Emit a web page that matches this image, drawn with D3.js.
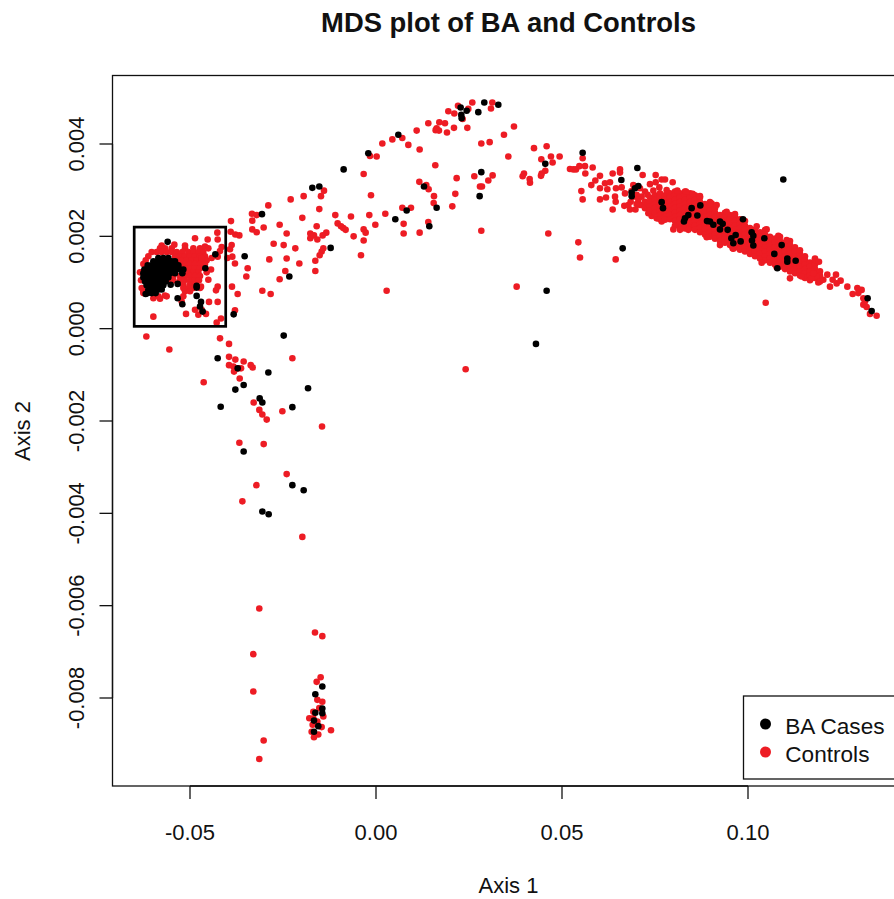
<!DOCTYPE html>
<html>
<head>
<meta charset="utf-8">
<title>MDS plot of BA and Controls</title>
<script src="https://cdn.jsdelivr.net/npm/d3@7/dist/d3.min.js"></script>
<style>
html,body{margin:0;padding:0;background:#fff;overflow:hidden}
svg{display:block}
text{font-family:"Liberation Sans",Arial,Helvetica,sans-serif;fill:#111}
</style>
</head>
<body>
<svg id="chart" width="894" height="899"></svg>
<script>
const chartTitle = "MDS plot of BA and Controls";
const xAxisTitle = "Axis 1";
const yAxisTitle = "Axis 2";
const xTicks = [-0.05, 0, 0.05, 0.10];
const xTickLabels = ["-0.05", "0.00", "0.05", "0.10"];
const yTicks = [0.004, 0.002, 0, -0.002, -0.004, -0.006, -0.008];
const yTickLabels = ["0.004", "0.002", "0.000", "-0.002", "-0.004", "-0.006", "-0.008"];
const legendLabels = ["BA Cases", "Controls"];
const highlightX = [-0.0650, -0.0404];
const highlightY = [0.00005, 0.00220];

// Controls: the arch across the top middle
const controlsArch = [
[.02589,.00490],[.03127,.00490],[.03091,.00477],[.02204,.00483],[.01944,.00471],[.02105,.00466],[.02481,.00476],[.02329,.00454],
[.01406,.00445],[.01702,.00447],[.01854,.00445],[.01630,.00434],[.01603,.00430],[.01693,.00429],[.01908,.00425],[.02096,.00435],[.02455,.00435],[.01093,.00429],
[.03709,.00438],[.03440,.00420],[.02831,.00401],[.03055,.00404],[.01173,.00388],[.00869,.00398],[.00439,.00410],[.00707,.00413],[.00170,.00401],
[.00017,.00373],[-.00162,.00374],[.01594,.00354],[.03557,.00373],[.04247,.00391],[.04587,.00395],[.04444,.00367],[.04703,.00373],[.04936,.00373],[.04748,.00360],
[.04551,.00342],[.04453,.00336],[.04435,.00331],[.03978,.00336],[.03942,.00330],[.04130,.00324],[.04139,.00316],[-.00332,.00335],[.02168,.00326],[.02643,.00330],[.03135,.00332],[.03019,.00321],[.02795,.00308],[.02849,.00308],
[.01164,.00318],[.01352,.00311],[.01415,.00302],[-.01398,.00299],[-.01479,.00287],[-.01945,.00287],[-.02294,.00280],[-.00135,.00289],[.01559,.00287],[.02132,.00292],[.01550,.00272],[.02051,.00265],
[-.02895,.00267],[-.01524,.00259],[-.01094,.00246],[-.00673,.00243],[-.00180,.00246],[.00250,.00249],[.00707,.00262],[.00940,.00262],[-.03334,.00249],[-.03208,.00246],[-.01981,.00240],
[-.03325,.00234],[-.03898,.00233],[-.01031,.00228],[-.00941,.00222],[-.00879,.00218],[-.00816,.00214],[-.00018,.00225],[-.00332,.00215],[-.00278,.00208],[-.02590,.00225],[-.03020,.00219],[-.03325,.00215],[-.03208,.00209],[-.02402,.00206],[-.01595,.00222],
[.00743,.00227],[.01406,.00231],[.00743,.00206],[.01173,.00208],[.02831,.00212],[.04632,.00206],[-.01336,.00208],[-.01434,.00202],[-.01766,.00206],[-.01766,.00196],[-.01667,.00202],[-.01577,.00193],[-.00601,.00200],[-.00332,.00191],
[-.03782,.00204],[-.03674,.00202],[-.03907,.00210],[-.02751,.00184],[-.02482,.00181],[-.02169,.00174],[-.01416,.00174],[-.01461,.00167],[-.01515,.00159],[-.00404,.00159],[-.03880,.00181],[-.03925,.00172],[-.03862,.00156],
[-.02868,.00150],[-.02402,.00152],[-.02061,.00141],[-.01631,.00147],[-.03791,.00141],[-.03450,.00131],[-.03486,.00113],[-.02438,.00125],[-.02590,.00107],[-.01631,.00125],
[.03781,.00091],[.00286,.00082],[-.03056,.00082],[-.02832,.00075],[-.03719,.00075],[-.03871,.00091],[.05214,.00346],
[-.04265,.00208],[-.04256,.00193],[-.04194,.00168],[-.04149,.00177],[-.03996,.00153],[-.04256,.00156],[-.04256,.00091],[-.04301,.00083],[-.04256,.00058],[-.03791,.00040],[-.04167,.00022],[-.04283,.00013]
];

// Controls: the arm running down below zero
const controlsLower = [
[-.06173,-.00017],[-.05555,-.00045],[-.04193,-.00021],[-.03951,-.00033],[-.03951,-.00061],[-.03781,-.00067],[-.03557,-.00071],[-.03368,-.00079],[-.03315,-.00084],
[-.03951,-.00079],[-.03834,-.00082],[-.03700,-.00086],[-.03628,-.00086],[-.03816,-.00093],[-.03664,-.00108],[-.02248,-.00064],[-.04632,-.00116],[-.03288,-.00160],
[-.03136,-.00176],[-.03055,-.00186],[-.02938,-.00197],[-.02517,-.00179],[-.01451,-.00212],[-.03673,-.00247],[-.03019,-.00250],[-.02401,-.00315],[-.03216,-.00339],[-.03592,-.00374],[-.01980,-.00451],
[.02410,-.00088],
[-.03137,-.00606],[-.01640,-.00658],[-.01443,-.00666],[-.03298,-.00705],[-.03298,-.00786],[-.03020,-.00892],[-.03137,-.00932],[-.01488,-.00755],[-.01595,-.00765],[-.01577,-.00804],[-.01443,-.00808],
[-.01524,-.00822],[-.01685,-.00830],[-.01793,-.00844],[-.01685,-.00844],[-.01703,-.00858],[-.01416,-.00840],[-.01461,-.00863],[-.01210,-.00870],[-.01551,-.00879],[-.01667,-.00885],[-.01730,-.00873],[-.01577,-.00851]
];

// Controls: the dense group inside and near the box
const controlsCluster = [
[-.05806,.00174],[-.05672,.00174],[-.05493,.00174],[-.05134,.00174],[-.04910,.00174],[-.04731,.00174],[-.05421,.00182],[-.05761,.00180],[-.05134,.00180],
[-.06030,.00166],[-.05896,.00166],[-.05761,.00166],[-.05627,.00166],[-.05493,.00166],[-.05358,.00166],[-.05206,.00166],[-.05045,.00166],[-.04910,.00166],[-.04776,.00166],[-.04641,.00166],
[-.06120,.00157],[-.05403,.00157],[-.05269,.00157],[-.05134,.00157],[-.05000,.00157],[-.04865,.00157],[-.04731,.00157],[-.04597,.00157],
[-.06191,.00148],[-.05313,.00148],[-.05206,.00148],[-.05089,.00148],[-.04955,.00148],[-.04821,.00148],[-.04686,.00148],[-.04552,.00148],
[-.06254,.00140],[-.05269,.00140],[-.05134,.00140],[-.05000,.00140],[-.04865,.00140],[-.04731,.00140],[-.04597,.00140],
[-.05134,.00131],[-.05000,.00131],[-.04865,.00131],[-.04731,.00131],
[-.06344,.00122],[-.05045,.00122],[-.04910,.00122],[-.04776,.00122],
[-.05582,.00114],[-.05448,.00114],[-.05269,.00114],[-.05134,.00114],[-.05000,.00114],[-.04865,.00114],[-.04731,.00114],
[-.06317,.00105],[-.05582,.00105],[-.05448,.00105],[-.05269,.00105],[-.05152,.00105],[-.05000,.00105],[-.04865,.00105],[-.04758,.00105],
[-.05179,.00096],[-.05000,.00096],[-.04883,.00096],
[-.06299,.00088],[-.05179,.00088],[-.05045,.00088],[-.04910,.00088],[-.04731,.00088],
[-.06254,.00081],[-.05134,.00081],[-.05000,.00081],[-.06254,.00077],
[-.05672,.00072],[-.05806,.00065],[-.05985,.00066],[-.05851,.00070],[-.05627,.00070],[-.05985,.00026],
[-.04865,.00196],[-.04525,.00193],[-.04597,.00178],[-.04507,.00174],[-.05107,.00032],[-.04865,.00041],[-.04776,.00030],[-.04570,.00032],[-.04489,.00058],[-.04704,.00091],[-.04686,.00041],[-.05179,.00070],[-.05224,.00059],[-.04507,.00106],[-.04435,.00128],[-.04552,.00122],[-.04686,.00153],[-.04417,.00153]
];

// Controls: loose points at the head of the band on the right
const controlsBandHead = [
[.05305,.00345],[.05376,.00345],[.05466,.00352],[.05618,.00352],[.05824,.00349],[.05627,.00336],[.05555,.00369],[.06021,.00331],[.06362,.00336],[.06559,.00345],[.06559,.00338],
[.05896,.00321],[.05788,.00311],[.06156,.00315],[.06290,.00317],[.06021,.00304],[.06219,.00302],[.05520,.00298],[.05555,.00280],[.06021,.00280],[.06183,.00284],[.06362,.00258],
[.06451,.00304],[.06604,.00306],[.06425,.00286],[.06443,.00275],[.07168,.00333],[.07518,.00333],[.07975,.00317],[.07365,.00313],[.07518,.00317],[.07679,.00323],[.07769,.00323],
[.05439,.00187],[.05484,.00154],[.06443,.00150],[.06693,.00293],[.06675,.00266],[.06828,.00258],[.06846,.00275],[.07097,.00268],[.07410,.00244],[.07410,.00258],[.06917,.00311],[.07097,.00304],
[.07007,.00290],[.07141,.00286],[.07231,.00297],[.07141,.00268],[.07231,.00275],[.07052,.00279],[.06917,.00286],[.06783,.00268],
[.10475,.00056],[.08082,.00295],[.09023,.00271],[.10501,.00215],[.10815,.00201],[.09587,.00174],
[.06870,.00298],[.07006,.00270],[.06975,.00258],[.07231,.00261],[.07321,.00250],[.07545,.00239],[.07679,.00232],[.07300,.00290],[.07315,.00270]
];

// Controls: the thick band on the right
const controlsBand = [
[.07365,.00284],[.07365,.00274],[.07365,.00265],[.07365,.00256],
[.07500,.00289],[.07500,.00279],[.07500,.00270],[.07500,.00261],[.07500,.00251],
[.07634,.00293],[.07634,.00284],[.07634,.00274],[.07634,.00265],[.07634,.00256],[.07634,.00246],[.07634,.00237],
[.07769,.00289],[.07769,.00279],[.07769,.00270],[.07769,.00261],[.07769,.00251],[.07769,.00242],[.07769,.00236],
[.07903,.00293],[.07903,.00284],[.07903,.00274],[.07903,.00265],[.07903,.00256],[.07903,.00246],[.07903,.00237],
[.08037,.00297],[.08037,.00289],[.08037,.00279],[.08037,.00270],[.08037,.00261],[.08037,.00251],[.08037,.00242],[.08037,.00233],[.08037,.00223],
[.08172,.00293],[.08172,.00284],[.08172,.00274],[.08172,.00265],[.08172,.00256],[.08172,.00246],[.08172,.00237],[.08172,.00227],[.08172,.00218],
[.08306,.00297],[.08306,.00289],[.08306,.00279],[.08306,.00270],[.08306,.00261],[.08306,.00251],[.08306,.00242],[.08306,.00233],[.08306,.00223],[.08306,.00217],
[.08441,.00293],[.08441,.00284],[.08441,.00274],[.08441,.00265],[.08441,.00256],[.08441,.00246],[.08441,.00237],[.08441,.00227],[.08441,.00218],
[.08575,.00289],[.08575,.00279],[.08575,.00270],[.08575,.00261],[.08575,.00251],[.08575,.00242],[.08575,.00233],[.08575,.00223],[.08575,.00214],
[.08709,.00284],[.08709,.00274],[.08709,.00265],[.08709,.00256],[.08709,.00246],[.08709,.00237],[.08709,.00227],[.08709,.00218],[.08709,.00209],
[.08844,.00270],[.08844,.00261],[.08844,.00251],[.08844,.00242],[.08844,.00233],[.08844,.00223],[.08844,.00214],[.08844,.00204],
[.08978,.00274],[.08978,.00265],[.08978,.00256],[.08978,.00246],[.08978,.00237],[.08978,.00227],[.08978,.00218],[.08978,.00209],[.08978,.00199],
[.09113,.00261],[.09113,.00251],[.09113,.00242],[.09113,.00233],[.09113,.00223],[.09113,.00214],[.09113,.00204],[.09113,.00195],
[.09247,.00246],[.09247,.00237],[.09247,.00227],[.09247,.00218],[.09247,.00209],[.09247,.00199],[.09247,.00190],[.09247,.00181],
[.09381,.00251],[.09381,.00242],[.09381,.00233],[.09381,.00223],[.09381,.00214],[.09381,.00204],[.09381,.00195],[.09381,.00186],
[.09516,.00246],[.09516,.00237],[.09516,.00227],[.09516,.00218],[.09516,.00209],[.09516,.00199],[.09516,.00190],[.09516,.00181],
[.09650,.00242],[.09650,.00233],[.09650,.00223],[.09650,.00214],[.09650,.00204],[.09650,.00195],[.09650,.00186],[.09650,.00176],
[.09785,.00237],[.09785,.00227],[.09785,.00218],[.09785,.00209],[.09785,.00199],[.09785,.00190],[.09785,.00181],[.09785,.00171],
[.09919,.00233],[.09919,.00223],[.09919,.00214],[.09919,.00204],[.09919,.00195],[.09919,.00186],[.09919,.00176],[.09919,.00167],
[.10053,.00218],[.10053,.00209],[.10053,.00199],[.10053,.00190],[.10053,.00181],[.10053,.00171],[.10053,.00162],
[.10188,.00214],[.10188,.00204],[.10188,.00195],[.10188,.00186],[.10188,.00176],[.10188,.00167],[.10188,.00157],
[.10322,.00209],[.10322,.00199],[.10322,.00190],[.10322,.00181],[.10322,.00171],[.10322,.00162],[.10322,.00152],
[.10457,.00214],[.10457,.00204],[.10457,.00195],[.10457,.00186],[.10457,.00176],[.10457,.00167],[.10457,.00157],[.10457,.00148],
[.10591,.00199],[.10591,.00190],[.10591,.00181],[.10591,.00171],[.10591,.00162],[.10591,.00152],[.10591,.00143],
[.10725,.00195],[.10725,.00186],[.10725,.00176],[.10725,.00167],[.10725,.00157],[.10725,.00148],[.10725,.00139],
[.10860,.00199],[.10860,.00190],[.10860,.00181],[.10860,.00171],[.10860,.00162],[.10860,.00152],[.10860,.00143],[.10860,.00134],
[.10994,.00186],[.10994,.00176],[.10994,.00167],[.10994,.00157],[.10994,.00148],[.10994,.00139],[.10994,.00129],
[.11129,.00190],[.11129,.00181],[.11129,.00171],[.11129,.00162],[.11129,.00152],[.11129,.00143],[.11129,.00134],[.11129,.00124],
[.11263,.00176],[.11263,.00167],[.11263,.00157],[.11263,.00148],[.11263,.00139],[.11263,.00129],[.11263,.00120],
[.11397,.00162],[.11397,.00152],[.11397,.00143],[.11397,.00134],[.11397,.00124],[.11397,.00115],
[.11532,.00157],[.11532,.00148],[.11532,.00139],[.11532,.00129],[.11532,.00120],[.11532,.00110],
[.11666,.00143],[.11666,.00134],[.11666,.00124],[.11666,.00115],[.11666,.00105],
[.11801,.00139],[.11801,.00129],[.11801,.00120],[.11801,.00110],
[.11935,.00124],[.11935,.00115],[.11935,.00105]
];

// Controls: points sticking out of the band's edges
const controlsBandEdge = [
[.07455,.00299],[.07616,.00306],[.07813,.00300],[.08100,.00299],[.08333,.00297],[.08512,.00292],[.08709,.00287],[.09157,.00268],[.09426,.00253],[.09650,.00248],[.10233,.00222],[.11039,.00192],[.11397,.00170],[.11801,.00152],
[.07993,.00215],[.08396,.00214],[.08172,.00214],[.08889,.00198],[.09606,.00173],[.10367,.00143],[.10770,.00133],[.11890,.00100]
];

// Controls: the thin tail at the far right
const controlsTail = [
[.11801,.00149],[.11908,.00145],[.11845,.00113],[.11935,.00102],[.12132,.00117],[.12365,.00117],[.12275,.00106],[.12383,.00098],[.12490,.00104],[.12204,.00091],[.12670,.00091],
[.12939,.00088],[.13055,.00084],[.12813,.00075],[.12965,.00077],[.13100,.00066],[.13100,.00052],[.13189,.00047],[.13279,.00032],[.13458,.00028],[.13145,.00059],
[.11129,.00109],[.11442,.00113],[.11711,.00109],[.12025,.00106],[.11756,.00120]
];

// BA cases: the solid blob in the box
const casesCluster = [
[-.05851,.00153],[-.05717,.00153],[-.05582,.00153],
[-.05985,.00146],[-.05869,.00146],[-.05743,.00146],[-.05627,.00146],[-.05493,.00146],[-.05403,.00146],
[-.06138,.00137],[-.06030,.00137],[-.05896,.00137],[-.05779,.00137],[-.05672,.00137],[-.05537,.00137],[-.05421,.00137],[-.05313,.00137],
[-.06227,.00128],[-.06102,.00128],[-.05985,.00128],[-.05869,.00128],[-.05743,.00128],[-.05627,.00128],[-.05493,.00128],[-.05385,.00128],[-.05269,.00128],[-.05179,.00128],
[-.06254,.00120],[-.06138,.00120],[-.06012,.00120],[-.05896,.00120],[-.05779,.00120],[-.05654,.00120],[-.05537,.00120],[-.05403,.00120],[-.05206,.00120],
[-.06254,.00111],[-.06138,.00111],[-.06030,.00111],[-.05914,.00111],[-.05797,.00111],[-.05690,.00111],[-.05582,.00111],
[-.06209,.00102],[-.06102,.00102],[-.05985,.00102],[-.05869,.00102],[-.05761,.00102],[-.05654,.00102],
[-.06165,.00094],[-.06048,.00094],[-.05923,.00094],[-.05806,.00094],[-.05717,.00094],
[-.06120,.00085],[-.05985,.00085],[-.05851,.00085],[-.05761,.00085],
[-.06138,.00077],[-.06030,.00077],[-.05923,.00077],[-.06192,.00075]
];

// BA cases: everything else
const casesOther = [
[.02911,.00490],[.03288,.00485],[.02275,.00479],[.02437,.00472],[.02750,.00469],[.02293,.00463],[.02302,.00456],[.00600,.00420],[-.00207,.00380],[-.00870,.00345],
[-.01712,.00305],[-.01524,.00308],[-.03065,.00248],[.04551,.00357],[.02831,.00339],[.01290,.00308],[.01630,.00262],[.00824,.00256],[.00519,.00237],[.01433,.00222],[.02786,.00287],
[-.01219,.00175],[-.03531,.00157],[-.02330,.00113],[.04587,.00082],[.04300,-.00033],
[-.02481,-.00015],[-.04256,-.00064],[-.03718,-.00086],[-.02894,-.00095],[-.03557,-.00122],[-.03781,-.00132],[-.01827,-.00129],[-.03127,-.00151],[-.03055,-.00160],[-.04175,-.00169],[-.02248,-.00170],
[-.03557,-.00266],[-.02248,-.00339],[-.01944,-.00350],[-.03055,-.00396],[-.02885,-.00402],
[-.01443,-.00775],[-.01631,-.00792],[-.01443,-.00823],[-.01443,-.00833],[-.01631,-.00832],[-.01667,-.00849],[-.01551,-.00861],[-.01667,-.00873],
[-.05601,.00188],[-.04319,.00161],[-.04588,.00131],[-.05520,.00095],[-.05332,.00097],[-.04821,.00093],[-.04821,.00089],[-.05332,.00066],[-.05206,.00053],[-.04821,.00071],[-.04704,.00058],[-.04731,.00048],[-.04659,.00037],
[-.03826,.00031],
[.05555,.00381],[.07025,.00348],[.06595,.00322],[.10949,.00323],[.06631,.00174],[.07052,.00309],[.06962,.00304],[.06873,.00295],[.06873,.00287],[.07679,.00274],[.07715,.00261],[.08718,.00267],[.08485,.00261],
[.08396,.00246],[.08638,.00245],[.08306,.00239],[.08279,.00232],[.08898,.00233],[.08978,.00232],[.09068,.00225],[.09247,.00232],[.09319,.00227],[.09247,.00215],[.09453,.00214],[.09865,.00237],
[.09668,.00203],[.09552,.00196],[.09605,.00185],[.09802,.00189],[.10098,.00209],[.10143,.00201],[.10107,.00191],[.10143,.00180],[.10439,.00196],[.10905,.00181],[.10707,.00162],[.11057,.00152],[.11057,.00145],[.11281,.00147],[.10788,.00131],
[.13216,.00066],[.13324,.00038]
];

const controls = [].concat(controlsArch, controlsLower, controlsCluster, controlsBandHead, controlsBand, controlsBandEdge, controlsTail);
const cases = [].concat(casesCluster, casesOther);

const RED = "#ED1C24", BLACK = "#000";
const svg = d3.select("#chart");
const plotLeft = 112.5, plotRight = 904, plotTop = 75.5, plotBottom = 786;
const x = d3.scaleLinear().domain([-0.05, 0.10]).range([190, 748]);
const y = d3.scaleLinear().domain([0.004, -0.008]).range([144, 698]);
const dotR = 3.3;

svg.append("g").selectAll("circle").data(controls).join("circle")
  .attr("cx", d => x(d[0])).attr("cy", d => y(d[1])).attr("r", dotR).attr("fill", RED);
svg.append("g").selectAll("circle").data(cases).join("circle")
  .attr("cx", d => x(d[0])).attr("cy", d => y(d[1])).attr("r", dotR).attr("fill", BLACK);

// plot frame
svg.append("rect").attr("x", plotLeft).attr("y", plotTop).attr("width", plotRight - plotLeft).attr("height", plotBottom - plotTop)
  .attr("fill", "none").attr("stroke", "#111").attr("stroke-width", 1.3);

// highlight box
svg.append("rect")
  .attr("x", x(highlightX[0])).attr("y", y(highlightY[1]))
  .attr("width", x(highlightX[1]) - x(highlightX[0])).attr("height", y(highlightY[0]) - y(highlightY[1]))
  .attr("fill", "none").attr("stroke", "#000").attr("stroke-width", 2.7);

// axes
const xAxis = d3.axisBottom(x).tickValues(xTicks).tickFormat((d, i) => xTickLabels[i]).tickSize(13).tickSizeOuter(0).offset(0);
const gx = svg.append("g").attr("transform", `translate(0,${plotBottom})`).call(xAxis);
gx.select(".domain").attr("stroke", "#111").attr("stroke-width", 1.3);
gx.selectAll(".tick line").attr("stroke", "#111").attr("stroke-width", 1.3);
gx.selectAll(".tick text").attr("y", 54).attr("dy", 0).attr("font-size", 22).attr("font-family", '"Liberation Sans",Arial,sans-serif').attr("fill", "#111");

const yAxis = d3.axisLeft(y).tickValues(yTicks).tickFormat((d, i) => yTickLabels[i]).tickSize(13).tickSizeOuter(0).offset(0);
const gy = svg.append("g").attr("transform", `translate(${plotLeft},0)`).call(yAxis);
gy.select(".domain").attr("stroke", "#111").attr("stroke-width", 1.3);
gy.selectAll(".tick line").attr("stroke", "#111").attr("stroke-width", 1.3);
gy.selectAll(".tick text").attr("x", 0).attr("y", 0).attr("dy", 0).attr("text-anchor", "middle")
  .attr("transform", "translate(-28.5,0) rotate(-90)").attr("font-size", 22)
  .attr("font-family", '"Liberation Sans",Arial,sans-serif').attr("fill", "#111");

// titles
svg.append("text").attr("x", 508.5).attr("y", 32).attr("text-anchor", "middle")
  .attr("font-size", 27.4).attr("font-weight", "bold").attr("fill", "#000").text(chartTitle);
svg.append("text").attr("x", 508.5).attr("y", 893).attr("text-anchor", "middle")
  .attr("font-size", 22).text(xAxisTitle);
svg.append("text").attr("transform", "translate(30,431) rotate(-90)").attr("text-anchor", "middle")
  .attr("font-size", 22).text(yAxisTitle);

// legend
const legendColors = [BLACK, RED];
const legendRows = [724, 752];
const legendBaselines = [734, 762];
svg.append("rect").attr("x", 743.5).attr("y", 696).attr("width", 170).attr("height", 83)
  .attr("fill", "#fff").attr("stroke", "#111").attr("stroke-width", 1.3);
legendLabels.forEach((label, i) => {
  svg.append("circle").attr("cx", 765.5).attr("cy", legendRows[i]).attr("r", 5.5).attr("fill", legendColors[i]);
  svg.append("text").attr("x", 785.3).attr("y", legendBaselines[i]).attr("font-size", 22.6).text(label);
});
</script>
</body>
</html>
